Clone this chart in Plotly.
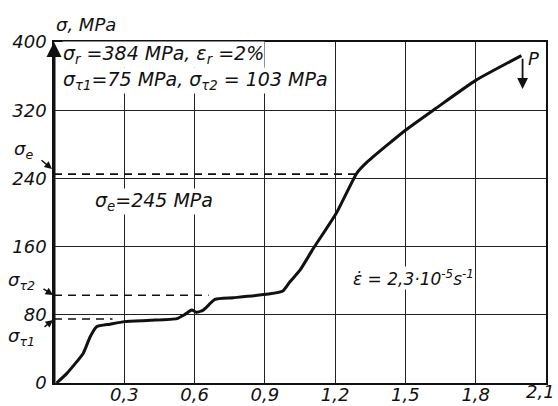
import plotly.graph_objects as go

# --- data ---
strain = [0.011, 0.054, 0.125, 0.154, 0.182, 0.239, 0.30, 0.41, 0.524, 0.559,
          0.588, 0.609, 0.637, 0.687, 0.765, 0.915, 0.977, 1.007, 1.05, 1.105,
          1.208, 1.292, 1.336, 1.5, 1.629, 1.8, 1.995]
stress = [0, 11, 35, 54, 66, 69, 72, 73.5, 75.5, 80.5,
          85.5, 83, 85.5, 98, 100, 104.3, 108, 118.7, 132.4, 157,
          200.7, 246, 259, 296.5, 322, 355, 384]

x_ticks = [0.3, 0.6, 0.9, 1.2, 1.5, 1.8]
x_tick_text = ["0,3", "0,6", "0,9", "1,2", "1,5", "1,8"]
x_last_tick = 2.1
x_last_text = "2,1"
y_ticks = [0, 80, 160, 240, 320, 400]
y_tick_text = ["0", "80", "160", "240", "320", "400"]

sigma_e = 245
sigma_t1 = 75
sigma_t2 = 103
dash_levels = [sigma_e, sigma_t2, sigma_t1]
dash_ends = [1.29, 0.66, 0.25]

FONT = "DejaVu Sans"
INK = "#111111"

fig = go.Figure()

for lvl, xe in zip(dash_levels, dash_ends):
    fig.add_trace(go.Scatter(x=[0, xe], y=[lvl, lvl], mode="lines",
                             line=dict(color=INK, width=1.6, dash="8px,6px"),
                             hoverinfo="skip", showlegend=False))

fig.add_trace(go.Scatter(x=strain, y=stress, mode="lines",
                         line=dict(color=INK, width=3, shape="spline", smoothing=0.5),
                         showlegend=False))

tickf = dict(family=FONT, size=18, style="italic", color=INK)
fig.update_layout(
    width=558, height=406,
    margin=dict(l=54, r=12, t=42, b=23),
    paper_bgcolor="white", plot_bgcolor="white",
    font=dict(family=FONT, color=INK, size=18),
    xaxis=dict(range=[0, 2.1], tickvals=x_ticks, ticktext=x_tick_text,
               showgrid=True, gridcolor="#222222", gridwidth=1.4,
               zeroline=False, showline=True, mirror=True, linecolor=INK, linewidth=1.6,
               tickfont=tickf, ticks="", ticklabelstandoff=-5,
               automargin=False, fixedrange=True),
    yaxis=dict(range=[0, 400], tickvals=y_ticks, ticktext=y_tick_text,
               showgrid=True, gridcolor="#222222", gridwidth=1.4,
               zeroline=False, showline=True, mirror=True, linecolor=INK, linewidth=1.6,
               tickfont=tickf, ticks="", ticklabelstandoff=2,
               automargin=False, fixedrange=True),
)

# last x tick label (kept inside the page)
fig.add_annotation(x=x_last_tick, xref="x", yref="paper", y=0, yshift=3,
                   xanchor="right", yanchor="top", xshift=10, borderpad=0,
                   text=x_last_text, showarrow=False, font=tickf)

# thicker left axis
fig.add_shape(type="line", xref="x", yref="y", x0=0, x1=0, y0=0, y1=392,
              line=dict(color=INK, width=3))

ital = dict(family=FONT, size=18, style="italic", color=INK)
ital19 = dict(family=FONT, size=19, style="italic", color=INK)

# axis arrow
fig.add_annotation(x=0, y=400, xref="x", yref="y", ax=0, ay=385, axref="x", ayref="y",
                   text="", showarrow=True, arrowhead=2, arrowsize=1.2, arrowwidth=2.5,
                   arrowcolor=INK)

# axis title
fig.add_annotation(xref="paper", yref="paper", x=0.0, y=1.0, yshift=5, xanchor="left",
                   yanchor="bottom", text="σ, MPa", showarrow=False, font=ital)

def px(xp):
    return (xp - 54) / 492

def py(yp):
    return (383 - yp) / 341

# info text
fig.add_annotation(xref="paper", yref="paper", x=px(62), y=py(55),
                   xanchor="left", yanchor="middle",
                   text="σ<sub>r</sub> =384 MPa, ε<sub>r</sub> =2%",
                   showarrow=False, font=ital19, bgcolor="white", borderpad=0)
fig.add_annotation(xref="paper", yref="paper", x=px(62), y=py(80),
                   xanchor="left", yanchor="middle",
                   text="σ<sub>τ1</sub>=75 MPa, σ<sub>τ2</sub> = 103 MPa",
                   showarrow=False, font=ital19, bgcolor="white", borderpad=0)
fig.add_annotation(xref="paper", yref="paper", x=px(94), y=py(201),
                   xanchor="left", yanchor="middle",
                   text="σ<sub>e</sub>=245 MPa",
                   showarrow=False, font=ital19, bgcolor="white", borderpad=0)
fig.add_annotation(xref="paper", yref="paper", x=px(352), y=py(278),
                   xanchor="left", yanchor="middle",
                   text="ε̇ = 2,3·10<sup>-5</sup>s<sup>-1</sup>",
                   showarrow=False, font=dict(family=FONT, size=17, style="italic", color=INK),
                   bgcolor="white", borderpad=0)

# P unloading arrow
fig.add_annotation(x=2.0, y=345, xref="x", yref="y", ax=2.0, ay=382, axref="x", ayref="y",
                   text="", showarrow=True, arrowhead=2, arrowsize=1.2, arrowwidth=1.8,
                   arrowcolor=INK)
fig.add_annotation(x=2.045, y=381, xref="x", yref="y", text="P", showarrow=False,
                   xanchor="center", yanchor="middle",
                   font=dict(family=FONT, size=18, style="italic", color=INK))

# left labels with arrows (tail offsets in pixels)
left_labels = [
    ("σ<sub>e</sub>", 23, 150, 52, 169, -12, -10),
    ("σ<sub>τ2</sub>", 21, 281, 53, 295, -11, -7),
    ("σ<sub>τ1</sub>", 21, 337, 53, 320, -10, 8),
]
for txt, tx, ty, hx, hy, dx, dy in left_labels:
    fig.add_annotation(xref="paper", yref="paper", x=px(tx), y=py(ty), text=txt,
                       xanchor="center", yanchor="middle",
                       showarrow=False, font=ital)
    fig.add_annotation(xref="paper", yref="paper", x=px(hx), y=py(hy),
                       ax=dx, ay=dy, text="", showarrow=True,
                       arrowhead=2, arrowsize=1, arrowwidth=1.5, arrowcolor=INK)

fig.write_html("out.html", config={"displayModeBar": False},
               post_script="document.body.style.margin='0';document.body.style.overflow='hidden';")
